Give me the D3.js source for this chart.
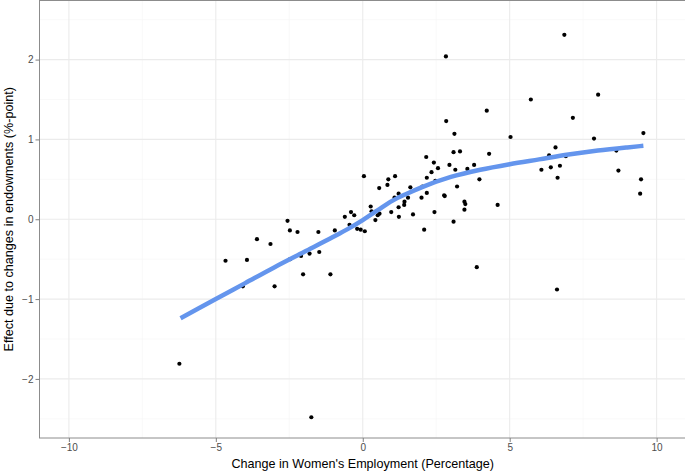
<!DOCTYPE html>
<html>
<head>
<meta charset="utf-8">
<script src="https://cdn.jsdelivr.net/npm/d3@7"></script>
<style>
  body { margin: 0; background: #fff; }
  svg { display: block; font-family: "Liberation Sans", Arial, Helvetica, sans-serif; }
</style>
</head>
<body>
<div class="canvas"></div>
<script>
/* ----------- DATA ----------- */
// change in women's employment (x) and endowment effect (y)
const empChange = [
  -6.24, -4.67, -3.60, -3.94, -3.14, -4.08, -3.00, -2.48, -2.22, -1.51,
  -0.95, -2.47, -2.10, -1.81, -1.48, -2.03, -1.10, -1.75, -0.19, -0.07,
   0.07,  2.09,  2.83,  2.84,  3.12,  3.09,  3.31,  2.16,  2.42,  2.95,
   2.34,  2.56,  3.15,  3.56,  0.04,  0.87,  1.10,  0.84,  0.56,  1.62,
   2.03,  2.18,  2.47,  1.22,  1.08,  1.54,  1.42,  1.41,  1.22,  2.00,
   2.18,  2.77,  2.79,  0.97,  1.23,  1.71,  2.44,  3.09,  0.27,  0.30,
  -0.40, -0.29, -0.61, -0.45,  0.43,  0.51,  0.57, -2.56,  6.86,  5.72,
   8.01,  4.22,  7.15,  5.03,  7.87,  9.55,  4.30,  6.56,  6.34,  8.63,
   3.79,  3.97,  3.21,  6.08,  6.40,  6.71,  6.63,  8.70,  9.47,  9.44,
   4.59,  3.46,  3.49,  3.46,  3.88,  6.61,  6.91
];
const endowEffect = [
  -1.81, -0.52, -0.25, -0.51, -0.31, -0.84, -0.84, -0.14, -0.16, -0.16,
  -0.14, -0.50, -0.46, -0.43, -0.41, -0.69, -0.69, -2.48, -0.12, -0.13,
  -0.15, -0.13,  2.04,  1.23,  1.07,  0.84,  0.85,  0.78,  0.71,  0.68,
   0.59,  0.64,  0.62,  0.63,  0.54,  0.50,  0.54,  0.43,  0.39,  0.40,
   0.41,  0.52,  0.48,  0.32,  0.27,  0.27,  0.22,  0.18,  0.15,  0.27,
   0.33,  0.30,  0.29,  0.09,  0.03,  0.06,  0.09, -0.03,  0.16,  0.10,
   0.09,  0.05,  0.03, -0.07, -0.01,  0.05,  0.07, -0.02,  2.31,  1.50,
   1.56,  1.36,  1.27,  1.03,  1.01,  1.08,  0.82,  0.90,  0.80,  0.86,
   0.68,  0.50,  0.41,  0.62,  0.65,  0.67,  0.52,  0.61,  0.50,  0.32,
   0.18,  0.22,  0.19,  0.12, -0.60, -0.88,  0.79
];

// smoothed trend
const fitX = [-6.2, -5, -4, -3, -2, -1, -0.5, 0, 0.5, 1, 1.5, 2, 3, 4, 5, 6, 7, 8, 9, 9.55];
const fitY = [-1.24, -1.00, -0.80, -0.60, -0.41, -0.22, -0.12, -0.01, 0.11, 0.23, 0.32, 0.40, 0.53, 0.62, 0.69, 0.75, 0.81, 0.86, 0.90, 0.92];

const xTicks = [-10, -5, 0, 5, 10];
const yTicks = [-2, -1, 0, 1, 2];
const xMinor = [-7.5, -2.5, 2.5, 7.5];
const yMinor = [-2.5, -1.5, -0.5, 0.5, 1.5, 2.5];

/* ----------- CONTAINER & GRAPH ----------- */
const width = 685, height = 472;
const margin = { top: 0.5, right: -1, bottom: 34, left: 39.5 };
const graphWidth = width - margin.left - margin.right;
const graphHeight = height - margin.top - margin.bottom;

const svg = d3.select('.canvas')
    .append('svg')
    .attr('width', width)
    .attr('height', height);

const graph = svg.append('g')
    .attr('transform', `translate(${margin.left},${margin.top})`);

/* ----------- SCALES ------------- */
const x = d3.scaleLinear().domain([-11, 11]).range([0, graphWidth]);
const y = d3.scaleLinear().domain([-2.74, 2.74]).range([graphHeight, 0]);

// minor grid
graph.selectAll('.xminor').data(xMinor).enter().append('line')
    .attr('x1', d => x(d)).attr('x2', d => x(d))
    .attr('y1', 0).attr('y2', graphHeight)
    .attr('stroke', '#f5f5f5').attr('stroke-width', 0.6);
graph.selectAll('.yminor').data(yMinor).enter().append('line')
    .attr('y1', d => y(d)).attr('y2', d => y(d))
    .attr('x1', 0).attr('x2', graphWidth)
    .attr('stroke', '#f5f5f5').attr('stroke-width', 0.6);

// major grid
graph.selectAll('.xmajor').data(xTicks).enter().append('line')
    .attr('x1', d => x(d)).attr('x2', d => x(d))
    .attr('y1', 0).attr('y2', graphHeight)
    .attr('stroke', '#ebebeb').attr('stroke-width', 1.1);
graph.selectAll('.ymajor').data(yTicks).enter().append('line')
    .attr('y1', d => y(d)).attr('y2', d => y(d))
    .attr('x1', 0).attr('x2', graphWidth)
    .attr('stroke', '#ebebeb').attr('stroke-width', 1.1);

/* ----------- MARKS ----------- */
graph.selectAll('circle')
    .data(empChange.map((v, i) => ({ x: v, y: endowEffect[i] })))
    .enter()
    .append('circle')
    .attr('cx', d => x(d.x))
    .attr('cy', d => y(d.y))
    .attr('r', 2.1)
    .attr('fill', '#000');

const line = d3.line()
    .x(d => x(d[0]))
    .y(d => y(d[1]))
    .curve(d3.curveMonotoneX);

graph.append('path')
    .datum(fitX.map((v, i) => [v, fitY[i]]))
    .attr('d', line)
    .attr('fill', 'none')
    .attr('stroke', '#6495ED')
    .attr('stroke-width', 4.5);

// panel border
graph.append('rect')
    .attr('width', graphWidth)
    .attr('height', graphHeight)
    .attr('fill', 'none')
    .attr('stroke', '#8c8c8c')
    .attr('stroke-width', 1);

/* ----------- AXES ----------- */
const xAxis = d3.axisBottom(x).tickValues(xTicks).tickFormat(d3.format('d')).tickSize(4).tickPadding(2);
const yAxis = d3.axisLeft(y).tickValues(yTicks).tickFormat(d3.format('d')).tickSize(4).tickPadding(2);

const xAxisGroup = graph.append('g')
    .attr('transform', `translate(0,${graphHeight})`)
    .call(xAxis);
const yAxisGroup = graph.append('g').call(yAxis);

[xAxisGroup, yAxisGroup].forEach(g => {
    g.select('.domain').remove();
    g.selectAll('line').attr('stroke', '#7f7f7f');
    g.selectAll('text')
        .attr('fill', '#4d4d4d')
        .style('font-size', '10px')
        .style('font-family', '"Liberation Sans", Arial, sans-serif');
});

// axis titles
svg.append('text')
    .attr('x', margin.left + graphWidth / 2)
    .attr('y', 468)
    .attr('text-anchor', 'middle')
    .style('font-size', '12.6px')
    .attr('fill', '#000')
    .text("Change in Women's Employment (Percentage)");

svg.append('text')
    .attr('transform', `translate(13,${margin.top + y(0)}) rotate(-90)`)
    .attr('text-anchor', 'middle')
    .style('font-size', '12.6px')
    .attr('fill', '#000')
    .text('Effect due to changes in endowments (%-point)');
</script>
</body>
</html>
